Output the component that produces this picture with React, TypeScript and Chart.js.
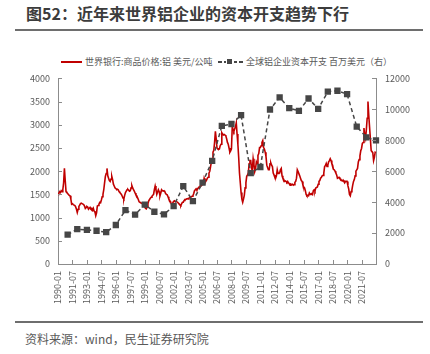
import React, { useEffect, useRef } from "react";
import { Chart, registerables } from "chart.js";

Chart.register(...registerables);

const TITLE = "图52：近年来世界铝企业的资本开支趋势下行";
const SOURCE = "资料来源：wind，民生证券研究院";
const PRICE_LABEL = "世界银行:商品价格:铝 美元/公吨";
const CAPEX_LABEL = "全球铝企业资本开支 百万美元（右）";

const START_YEAR = 1990;
const END_YEAR = 2023; // through 2023-01
const LAST_TICK_LABEL = "2021-07";

// Monthly aluminium price (USD/t), 1990-01 .. 2023-01
const price1990 = [1500, 1520, 1560, 1540, 1580, 1560, 1600, 1750, 2060, 1800, 1560, 1540];
const price1991 = [1520, 1500, 1480, 1470, 1400, 1290, 1300, 1280, 1270, 1260, 1230, 1180];
const price1992 = [1110, 1180, 1240, 1270, 1300, 1310, 1300, 1300, 1280, 1250, 1200, 1220];
const price1993 = [1240, 1230, 1180, 1200, 1220, 1190, 1200, 1160, 1200, 1140, 1120, 1040];
const price1994 = [1100, 1250, 1260, 1290, 1330, 1320, 1380, 1450, 1500, 1600, 1750, 1890];
const price1995 = [1950, 2060, 1900, 1850, 1800, 1780, 1830, 1890, 1820, 1720, 1680, 1640];
const price1996 = [1630, 1600, 1610, 1600, 1560, 1540, 1520, 1500, 1460, 1420, 1400, 1480];
const price1997 = [1540, 1570, 1600, 1610, 1590, 1570, 1580, 1640, 1690, 1640, 1600, 1570];
const price1998 = [1530, 1490, 1470, 1430, 1390, 1340, 1330, 1320, 1310, 1300, 1290, 1260];
const price1999 = [1230, 1200, 1190, 1230, 1300, 1360, 1390, 1420, 1440, 1460, 1480, 1500];
const price2000 = [1600, 1680, 1600, 1500, 1550, 1600, 1560, 1470, 1530, 1600, 1580, 1570];
const price2001 = [1580, 1560, 1520, 1500, 1490, 1450, 1400, 1370, 1350, 1300, 1290, 1320];
const price2002 = [1350, 1360, 1340, 1350, 1340, 1330, 1310, 1290, 1270, 1260, 1300, 1330];
const price2003 = [1330, 1370, 1390, 1390, 1400, 1410, 1400, 1420, 1430, 1440, 1450, 1460];
const price2004 = [1470, 1520, 1580, 1600, 1620, 1600, 1620, 1650, 1640, 1680, 1690, 1700];
const price2005 = [1710, 1740, 1850, 1800, 1780, 1810, 1850, 1870, 1960, 2000, 2100, 2200];
const price2006 = [2250, 2410, 2450, 2620, 2860, 2700, 2500, 2480, 2470, 2480, 2550, 2580];
const price2007 = [2830, 2800, 2780, 2790, 2780, 2760, 2700, 2620, 2580, 2500, 2410, 2440];
const price2008 = [2480, 2960, 2900, 2860, 2910, 2960, 3040, 2800, 2580, 2300, 1960, 1750];
const price2009 = [1540, 1400, 1330, 1400, 1480, 1640, 1750, 1890, 1920, 1960, 2160, 2230];
const price2010 = [2230, 2050, 2030, 2270, 2150, 1990, 2050, 2200, 2160, 2340, 2380, 2510];
const price2011 = [2510, 2550, 2620, 2660, 2510, 2480, 2410, 2320, 2130, 2080, 2030, 2030];
const price2012 = [2160, 2180, 2130, 2100, 1960, 1920, 1870, 1850, 1900, 2030, 1950, 1960];
const price2013 = [1960, 2030, 2060, 1900, 1850, 1830, 1780, 1790, 1780, 1760, 1780, 1750];
const price2014 = [1730, 1700, 1720, 1710, 1720, 1700, 1710, 1760, 1780, 1850, 2030, 1990];
const price2015 = [1990, 1900, 1850, 1800, 1780, 1700, 1660, 1640, 1580, 1500, 1470, 1480];
const price2016 = [1470, 1530, 1500, 1510, 1520, 1500, 1580, 1600, 1570, 1640, 1650, 1660];
const price2017 = [1720, 1780, 1800, 1850, 1870, 1900, 1910, 1960, 2100, 2120, 2165, 2100];
const price2018 = [2130, 2200, 2230, 2270, 2230, 2165, 2130, 2040, 2030, 2000, 1960, 1920];
const price2019 = [1850, 1860, 1870, 1840, 1830, 1800, 1790, 1810, 1780, 1750, 1780, 1780];
const price2020 = [1780, 1690, 1620, 1500, 1470, 1560, 1600, 1700, 1780, 1820, 1900, 2000];
const price2021 = [2030, 2060, 2200, 2250, 2330, 2440, 2490, 2600, 2620, 2930, 2760, 2700];
const price2022 = [2900, 3140, 3500, 3200, 2950, 2700, 2440, 2420, 2400, 2230, 2300, 2410];
const price2023 = [2400];

// Annual global aluminium capex (USD mn), year-end values 1990..2022 (plotted at next Jan)
const capexYears = [
  1990, 1991, 1992, 1993, 1994, 1995, 1996, 1997, 1998, 1999, 2000,
  2001, 2002, 2003, 2004, 2005, 2006, 2007, 2008, 2009, 2010,
  2011, 2012, 2013, 2014, 2015, 2016, 2017, 2018, 2019, 2020, 2021, 2022,
];
const capexValues = [
  1900, 2250, 2210, 2150, 2060, 2520, 3480, 3190, 3840, 3380, 3210,
  3740, 5030, 4070, 5260, 6670, 8930, 9050, 9620, 5870, 6270,
  9990, 10770, 10080, 9900, 10700, 10030, 11140, 11200, 10980, 8880, 8190, 7990,
];

const leftTicks = [0, 500, 1000, 1500, 2000, 2500, 3000, 3500, 4000];
const rightTicks = [0, 2000, 4000, 6000, 8000, 10000, 12000];

const priceSeries = [
  ...price1990, ...price1991, ...price1992, ...price1993, ...price1994, ...price1995,
  ...price1996, ...price1997, ...price1998, ...price1999, ...price2000, ...price2001,
  ...price2002, ...price2003, ...price2004, ...price2005, ...price2006, ...price2007,
  ...price2008, ...price2009, ...price2010, ...price2011, ...price2012, ...price2013,
  ...price2014, ...price2015, ...price2016, ...price2017, ...price2018, ...price2019,
  ...price2020, ...price2021, ...price2022, ...price2023,
];

function buildLabels(): string[] {
  const out: string[] = [];
  for (let y = START_YEAR; y <= END_YEAR; y++) {
    for (let m = 1; m <= 12; m++) {
      if (y === END_YEAR && m > 1) break;
      out.push(`${y}-${m < 10 ? "0" + m : m}`);
    }
  }
  return out;
}

const FONT = '"Noto Sans CJK SC", "Liberation Sans", sans-serif';
const RED = "#C00000";
const GRAY = "#464646";
const TEXT = "#595959";
const AXIS = "#8c8c8c";

const inwardTicks = {
  id: "inwardTicks",
  afterDraw(chart: any) {
    const ctx = chart.ctx;
    const area = chart.chartArea;
    ctx.save();
    ctx.strokeStyle = AXIS;
    ctx.lineWidth = 1;
    const x = chart.scales.x;
    x.ticks.forEach((t: any, i: number) => {
      const px = Math.round(x.getPixelForTick(i)) + 0.5;
      ctx.beginPath();
      ctx.moveTo(px, area.bottom);
      ctx.lineTo(px, area.bottom - 4);
      ctx.stroke();
    });
    const yl = chart.scales.y;
    yl.ticks.forEach((t: any) => {
      const py = Math.round(yl.getPixelForValue(t.value)) + 0.5;
      ctx.beginPath();
      ctx.moveTo(area.left, py);
      ctx.lineTo(area.left + 4, py);
      ctx.stroke();
    });
    const yr = chart.scales.y1;
    yr.ticks.forEach((t: any) => {
      const py = Math.round(yr.getPixelForValue(t.value)) + 0.5;
      ctx.beginPath();
      ctx.moveTo(area.right, py);
      ctx.lineTo(area.right - 4, py);
      ctx.stroke();
    });
    ctx.restore();
  },
};

export default function App() {
  const ref = useRef<HTMLCanvasElement | null>(null);

  useEffect(() => {
    if (!ref.current) return;
    const labels = buildLabels();
    const lastTickIdx = labels.indexOf(LAST_TICK_LABEL);
    const capexData: (number | null)[] = labels.map(() => null);
    capexYears.forEach((yr, i) => {
      const idx = labels.indexOf(`${yr + 1}-01`);
      if (idx >= 0) capexData[idx] = capexValues[i];
    });

    const chart = new Chart(ref.current, {
      type: "line",
      data: {
        labels,
        datasets: [
          {
            label: PRICE_LABEL,
            data: priceSeries,
            borderColor: RED,
            backgroundColor: RED,
            borderWidth: 1.6,
            pointRadius: 0,
            tension: 0,
            yAxisID: "y",
            order: 1,
          },
          {
            label: CAPEX_LABEL,
            data: capexData,
            borderColor: GRAY,
            backgroundColor: GRAY,
            borderWidth: 1.5,
            borderDash: [4, 3],
            pointStyle: "rect",
            pointRadius: 3.4,
            pointHoverRadius: 3.4,
            spanGaps: true,
            tension: 0,
            yAxisID: "y1",
            order: 0,
          },
        ],
      },
      options: {
        animation: false,
        responsive: false,
        maintainAspectRatio: false,
        events: [],
        layout: { padding: { top: 8, left: 0, right: 0, bottom: 0 } },
        plugins: {
          legend: { display: false },
          tooltip: { enabled: false },
        },
        scales: {
          x: {
            type: "category",
            offset: false,
            grid: { display: true, drawOnChartArea: false, drawTicks: false },
            border: { display: true, color: AXIS, width: 1 },
            ticks: {
              autoSkip: false,
              maxRotation: 90,
              minRotation: 90,
              padding: 7,
              color: TEXT,
              font: { family: FONT, size: 9 },
              callback: function (this: any, _v: any, i: number) {
                return i % 18 === 0 && i <= lastTickIdx ? labels[i] : null;
              },
            },
            afterFit: (s: any) => {
              s.height = 56;
            },
          },
          y: {
            position: "left",
            min: 0,
            max: 4000,
            afterBuildTicks: (s: any) => {
              s.ticks = leftTicks.map((v) => ({ value: v }));
            },
            grid: { display: true, drawOnChartArea: false, drawTicks: false },
            border: { display: true, color: AXIS, width: 1 },
            ticks: {
              padding: 8,
              color: TEXT,
              font: { family: FONT, size: 9 },
              callback: (v: any) => String(v),
            },
            afterFit: (s: any) => {
              s.width = 58;
            },
          },
          y1: {
            position: "right",
            min: 0,
            max: 12000,
            afterBuildTicks: (s: any) => {
              s.ticks = rightTicks.map((v) => ({ value: v }));
            },
            grid: { display: true, drawOnChartArea: false, drawTicks: false },
            border: { display: true, color: AXIS, width: 1 },
            ticks: {
              padding: 9,
              color: TEXT,
              font: { family: FONT, size: 9 },
              callback: (v: any) => String(v),
            },
            afterFit: (s: any) => {
              s.width = 54;
            },
          },
        },
      },
      plugins: [inwardTicks],
    });
    return () => chart.destroy();
  }, []);

  return (
    <div
      style={{
        position: "absolute",
        left: 0,
        top: 0,
        width: 430,
        height: 354,
        background: "#fff",
        fontFamily: FONT,
        overflow: "hidden",
      }}
    >
      <div
        style={{
          position: "absolute",
          left: 26,
          top: 2,
          fontSize: 16,
          fontWeight: 700,
          color: "#3c3c3c",
          whiteSpace: "nowrap",
          lineHeight: "22px",
        }}
      >
        {TITLE}
      </div>
      <div style={{ position: "absolute", left: 15, top: 29, width: 408, height: 2, background: "#6e6e6e" }} />

      {/* legend */}
      <div style={{ position: "absolute", left: 61, top: 61, width: 21, height: 2, background: RED }} />
      <div
        style={{
          position: "absolute",
          left: 85,
          top: 55,
          fontSize: 9,
          color: TEXT,
          whiteSpace: "nowrap",
          lineHeight: "14px",
        }}
      >
        {PRICE_LABEL}
      </div>
      <div style={{ position: "absolute", left: 218, top: 61, width: 4, height: 1.5, background: GRAY }} />
      <div style={{ position: "absolute", left: 224, top: 61, width: 2, height: 1.5, background: GRAY }} />
      <div style={{ position: "absolute", left: 227, top: 59, width: 5, height: 5, background: GRAY }} />
      <div style={{ position: "absolute", left: 234, top: 61, width: 3, height: 1.5, background: GRAY }} />
      <div style={{ position: "absolute", left: 239, top: 61, width: 4, height: 1.5, background: GRAY }} />
      <div
        style={{
          position: "absolute",
          left: 246,
          top: 55,
          fontSize: 9,
          color: TEXT,
          whiteSpace: "nowrap",
          lineHeight: "14px",
        }}
      >
        {CAPEX_LABEL}
      </div>

      <canvas
        ref={ref}
        width={430}
        height={256}
        style={{ position: "absolute", left: 0, top: 64, width: 430, height: 256 }}
      />

      <div style={{ position: "absolute", left: 15, top: 321, width: 408, height: 2, background: "#6e6e6e" }} />
      <div
        style={{
          position: "absolute",
          left: 25,
          top: 330,
          fontSize: 12,
          color: TEXT,
          whiteSpace: "nowrap",
          lineHeight: "17px",
        }}
      >
        {SOURCE}
      </div>
    </div>
  );
}
